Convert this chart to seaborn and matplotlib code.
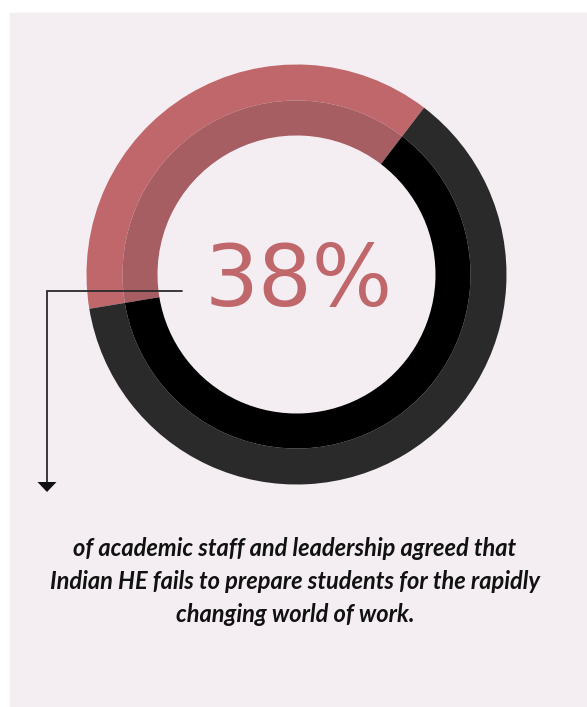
import matplotlib
matplotlib.use("Agg")
import matplotlib.pyplot as plt
from matplotlib.patches import Rectangle, Polygon
import seaborn as sns

# Survey share
labels = ["Agreed", "Other"]
values = [38, 62]
headline = "38%"
caption_lines = [
    "of academic staff and leadership agreed that",
    "Indian HE fails to prepare students for the rapidly",
    "changing world of work.",
]

outer_colors = ["#c0676b", "#2a2a2a"]
inner_colors = ["#a65e63", "#000000"]
panel_color = "#f4eef2"

sns.set_theme(style="white")
plt.rcParams["font.family"] = ["Lato", "DejaVu Sans"]

W, H = 587, 707
fig = plt.figure(figsize=(W / 100, H / 100), dpi=100)
fig.patch.set_facecolor("white")
ax = fig.add_axes([0, 0, 1, 1])

cx, cy = 296.5, H - 274.5
r_out, r_mid, r_in = 210, 174, 139
start = 121 - values[0] / 100 * 360 / 2

ax.add_patch(Rectangle((10, 0), W - 10, H - 13, color=panel_color, zorder=0))

ax.pie(values, radius=r_out, center=(cx, cy), colors=outer_colors,
       startangle=start, counterclock=True,
       wedgeprops=dict(width=r_out - r_mid, linewidth=0, zorder=2))
ax.pie(values, radius=r_mid, center=(cx, cy), colors=inner_colors,
       startangle=start, counterclock=True,
       wedgeprops=dict(width=r_mid - r_in, linewidth=0, zorder=2))

ax.set_xlim(0, W)
ax.set_ylim(0, H)
ax.set_aspect("equal")
ax.axis("off")

# Pointer arrow from the headline down to the caption
line_c = "#2b2b2b"
ax.plot([181.7, 46.7, 46.7], [H - 290.7, H - 290.7, H - 483],
        color=line_c, lw=1.3, solid_joinstyle="miter", zorder=3)
ax.add_patch(Polygon([(37.5, H - 482), (56.5, H - 482), (47, H - 492)],
                     closed=True, color="#111111", lw=0, zorder=3))

ax.text(299, H - 306, headline, ha="center", va="baseline",
        fontsize=61, color="#c0676b", fontweight="normal",
        family=["DejaVu Sans"], zorder=4)

for i, line in enumerate(caption_lines):
    ax.text(295, H - (548 + i * 33.5), line, ha="center", va="center",
            fontsize=17, style="italic", fontweight="bold", color="#111111",
            zorder=4)

fig.savefig("out.png", dpi=100, facecolor=fig.get_facecolor())
